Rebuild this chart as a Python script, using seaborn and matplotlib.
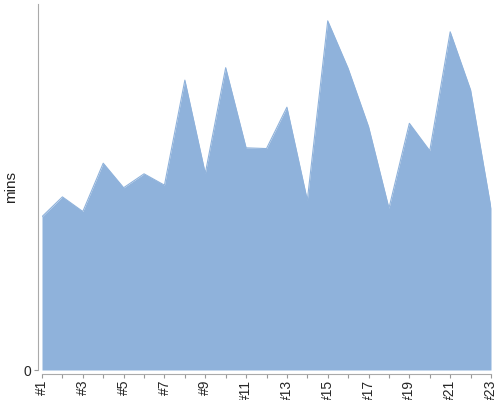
import numpy as np
import pandas as pd
import matplotlib
matplotlib.use("Agg")
import matplotlib.pyplot as plt
import seaborn as sns

# run labels and durations (mins)
runs = [f"#{i}" for i in range(1, 24)]
mins = [41.9, 47.3, 43.3, 56.5, 49.8, 53.6, 50.5, 79.2, 53.7, 82.6, 60.7, 60.5,
        71.8, 46.4, 95.4, 82.4, 66.5, 44.2, 67.4, 59.9, 92.4, 76.5, 44.2]

area_color = "#8fb2db"

sns.set_style("white")
plt.rcParams["font.family"] = ["Liberation Sans", "DejaVu Sans"]
df = pd.DataFrame({"run": runs, "pos": np.arange(len(runs)), "mins": mins})

fig, ax = plt.subplots(figsize=(5, 4), dpi=100)
fig.subplots_adjust(left=0.084, right=0.982, bottom=0.075, top=0.99)

ax.fill_between(df["pos"], df["mins"], 0, color=area_color, linewidth=0)
sns.lineplot(data=df, x="pos", y="mins", ax=ax, color=area_color, linewidth=0.8)

ax.set_xlim(0, len(runs) - 1)
ax.set_ylim(0, 100)

# ticks at every run, label only the odd ones
ax.set_xticks(df["pos"])
ax.set_xticklabels([r if i % 2 == 0 else "" for i, r in enumerate(runs)],
                   fontsize=6, color="black")
ax.set_yticks([0])
ax.set_yticklabels(["0"], fontsize=9.5, color="#444444")
ax.tick_params(axis="both", direction="out", length=3, width=0.8,
               color="#999999", pad=2, bottom=True, left=True)
ax.tick_params(axis="x", labelrotation=90, pad=1)

ax.set_xlabel("")
ax.set_ylabel("mins", fontsize=11, color="#222222", labelpad=4)

sns.despine(ax=ax, offset=3)
for side in ["left", "bottom"]:
    ax.spines[side].set_color("#aaaaaa")
    ax.spines[side].set_linewidth(0.8)

fig.savefig("out.png", dpi=100)
